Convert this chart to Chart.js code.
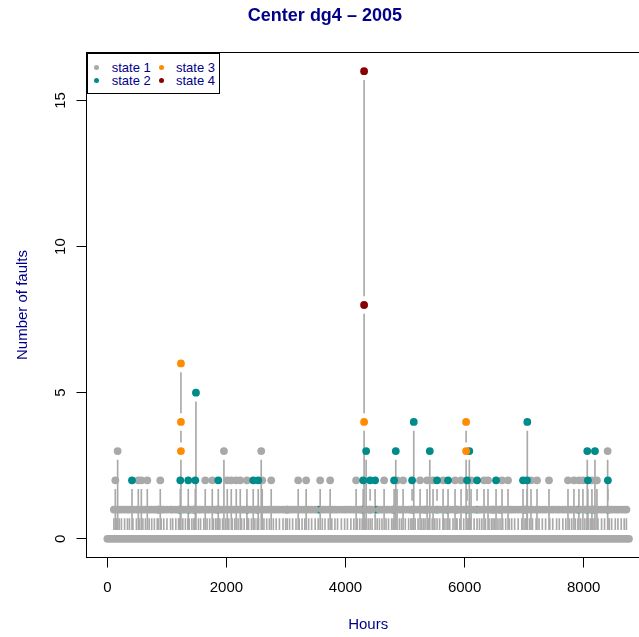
<!DOCTYPE html>
<html>
<head>
<meta charset="utf-8">
<title>Center dg4 - 2005</title>
<script src="https://cdn.jsdelivr.net/npm/chart.js@4.4.1/dist/chart.umd.min.js"></script>
<style>
  html, body { margin: 0; padding: 0; background: #fff; overflow: hidden; }
  #wrap { position: relative; width: 639px; height: 637px; overflow: hidden; }
  #faults { position: absolute; left: 0; top: 0; }
  #legend {
    position: absolute; left: 87px; top: 53px; width: 133px; height: 41px;
    box-sizing: border-box; border: 1px solid #000; background: #fff;
    font: 13px "Liberation Sans", Arial, sans-serif; color: #00008B;
  }
  #legend .dot { position: absolute; width: 5px; height: 5px; border-radius: 50%; }
  #legend .txt { position: absolute; line-height: 15px; white-space: nowrap; }
</style>
</head>
<body>
<div id="wrap">
  <canvas id="faults" width="736" height="637"></canvas>
  <div id="legend"></div>
</div>
<script>
const FONT = '"Liberation Sans", Arial, sans-serif';
const BLUE = '#00008B';

// axis ticks
const xTicks = [0, 2000, 4000, 6000, 8000];
const yTicks = [0, 5, 10, 15];

// hours covered by the record (zero-fault baseline)
const hourSpan = [0, 8760];

// state 1: hours with 1, 2 and 3 faults
const state1Ones = [110, 150, 198, 236, 290, 338, 371, 430, 488, 540, 597, 640, 702, 745, 790, 838, 905, 948,
  1001, 1062, 1098, 1150, 1196, 1268, 1311, 1352, 1420, 1455, 1530, 1566, 1620, 1675, 1718, 1783, 1821, 1890,
  1935, 1990, 2040, 2099, 2141, 2196, 2255, 2298, 2372, 2420, 2478, 2540, 2630, 2676, 2721, 2788, 2836, 2890,
  2950, 2995, 3060, 3112, 3168, 3222, 3270, 3316, 3380, 3431, 3490, 3610, 3655, 3711, 3770, 3822, 3866, 3930,
  3985, 4032, 4090, 4140, 4198, 4240, 4330, 4380, 4446, 4570, 4612, 4680, 4722, 4775, 4840, 4905, 4940, 5004,
  5060, 5098, 5170, 5218, 5280, 5310, 5390, 5455, 5500, 5580, 5640, 5670, 5750, 5805, 5860, 5920, 5985, 6060,
  6100, 6160, 6250, 6290, 6350, 6410, 6450, 6505, 6560, 6640, 6690, 6750, 6790, 6840, 6900, 6960, 7030, 7090,
  7140, 7200, 7250, 7305, 7360, 7430, 7480, 7545, 7590, 7650, 7700, 7760, 7800, 7860, 7950, 8020, 8085, 8120,
  8180, 8240, 8300, 8350, 8430, 8470, 8530, 8575, 8630, 8680, 8717];
const state1Twos = [134, 520, 571, 671, 889, 1644, 1762, 2014, 2081, 2165, 2232, 2344, 2601, 2752, 3205, 3339,
  3574, 3742, 4178, 4648, 4866, 4967, 5252, 5370, 5470, 5638, 5839, 5940, 6108, 6326, 6393, 6628, 6729, 7115,
  7216, 7417, 7736, 7836, 7920, 7987, 8138, 8222];
const state1Threes = [173, 1958, 2584, 8402];

// state 2
const state2Ones = [856, 1208, 1376, 1460, 1846, 2349, 2517, 3020, 3541, 4279, 4413, 4531, 4799, 5118, 5336,
  5537, 5705, 5873, 6041, 6209, 6477, 6595, 7014, 7903, 8054, 8155, 8406];
const state2Twos = [414, 1225, 1359, 1477, 1863, 2450, 2534, 4296, 4413, 4497, 4816, 5118, 5537, 5722, 6041,
  6209, 6528, 6981, 7048, 8070, 8406];
const state2Threes = [4346, 4844, 5415, 6079, 8060, 8189];
const state2Fours = [5146, 7053];
const state2Fives = [1488];

// states 3 and 4
const state3Hours = [1236, 1236, 1236, 4312, 6025, 6025];
const state3Counts = [3, 4, 6, 4, 3, 4];
const state4Hours = [4312, 4312];
const state4Counts = [8, 16];

const stateLabels = ['state 1', 'state 2', 'state 3', 'state 4'];
const stateColors = ['#A9A9A9', '#008B8B', '#FF8C00', '#8B0000'];

const at = (hours, n) => hours.map(h => ({ x: h, y: n }));
const paired = (hours, counts) => hours.map((h, i) => ({ x: h, y: counts[i] }));

const s1 = [...at(state1Ones, 1), ...at(state1Twos, 2), ...at(state1Threes, 3)];
const s2low = at(state2Ones, 1);
const s2 = [...at(state2Twos, 2), ...at(state2Threes, 3), ...at(state2Fours, 4), ...at(state2Fives, 5)];
const s3 = paired(state3Hours, state3Counts);
const s4 = paired(state4Hours, state4Counts);

// vertical stems between stacked points, stopping short of each point
const GAP = 0.31;
const levels = new Map();
[s1, s2low, s2, s3, s4].flat().forEach(p => {
  if (!levels.has(p.x)) levels.set(p.x, []);
  levels.get(p.x).push(p.y);
});
const stems = [];
levels.forEach((counts, hour) => {
  let lo = 0;
  [...new Set(counts)].sort((a, b) => a - b).forEach(c => {
    if (c - lo > 2 * GAP) stems.push({ x: hour, y: [lo + GAP, c - GAP] });
    lo = c;
  });
});

const dots = (data, color, order) => ({
  type: 'scatter', data, order,
  backgroundColor: color, borderWidth: 0, pointRadius: 3.9, pointHoverRadius: 3.9
});

// box around the plot region
const frame = {
  id: 'frame',
  afterDatasetsDraw(chart) {
    const { ctx, chartArea: a } = chart;
    ctx.save();
    ctx.strokeStyle = '#000';
    ctx.lineWidth = 1;
    ctx.strokeRect(a.left, a.top, a.right - a.left, a.bottom - a.top);
    ctx.restore();
  }
};

Chart.defaults.font.family = FONT;

new Chart(document.getElementById('faults'), {
  type: 'scatter',
  data: {
    datasets: [
      { type: 'bar', data: stems, backgroundColor: '#A9A9A9', borderWidth: 0, barThickness: 1, order: 7 },
      {
        type: 'line', data: at(hourSpan, 0), order: 6,
        borderColor: '#A9A9A9', borderWidth: 7.8, borderCapStyle: 'round', pointRadius: 0
      },
      dots(s2low, stateColors[1], 5),
      dots(s1, stateColors[0], 4),
      dots(s2, stateColors[1], 3),
      dots(s3, stateColors[2], 2),
      dots(s4, stateColors[3], 1)
    ]
  },
  options: {
    responsive: false,
    devicePixelRatio: 1,
    animation: false,
    events: [],
    layout: { padding: { left: 0, right: 86.2, top: 0, bottom: 0 } },
    plugins: {
      legend: { display: false },
      tooltip: { enabled: false },
      title: {
        display: true,
        text: 'Center dg4 \u2013 2005',
        color: BLUE,
        font: { size: 18, weight: 'bold' },
        padding: { top: 5, bottom: 25.9 }
      }
    },
    scales: {
      x: {
        type: 'linear', min: -350, max: 9110, offset: false,
        afterBuildTicks: s => { s.ticks = xTicks.map(v => ({ value: v })); },
        afterFit: s => { s.height = 79.5; },
        border: { display: false },
        grid: { drawOnChartArea: false, drawTicks: true, tickLength: 10, tickColor: '#000', tickWidth: 1, offset: false },
        ticks: { color: '#000', font: { size: 15 }, padding: 11.8, maxRotation: 0, autoSkip: false, callback: v => String(v) },
        title: { display: true, text: 'Hours', color: BLUE, font: { size: 15 }, padding: { top: 0, bottom: 3.5 } }
      },
      y: {
        type: 'linear', min: -0.64, max: 16.64,
        afterBuildTicks: s => { s.ticks = yTicks.map(v => ({ value: v })); },
        afterFit: s => { s.width = 86.5; },
        border: { display: false },
        grid: { drawOnChartArea: false, drawTicks: true, tickLength: 10, tickColor: '#000', tickWidth: 1 },
        ticks: {
          color: '#000', font: { size: 15 }, padding: 7.7, minRotation: 90, maxRotation: 90,
          crossAlign: 'center', autoSkip: false, callback: v => String(v)
        },
        title: { display: true, text: 'Number of faults', color: BLUE, font: { size: 15 }, padding: { top: 14, bottom: 0 } }
      }
    }
  },
  plugins: [frame]
});

// two-column legend in the top-left corner of the plot
const legend = document.getElementById('legend');
const slots = [[8.7, 13.7], [8.7, 26], [73, 13.7], [73, 26]];
stateLabels.forEach((label, i) => {
  const [cx, cy] = slots[i];
  const dot = document.createElement('span');
  dot.className = 'dot';
  dot.style.left = (cx - 2.5) + 'px';
  dot.style.top = (cy - 2.5) + 'px';
  dot.style.background = stateColors[i];
  const txt = document.createElement('span');
  txt.className = 'txt';
  txt.textContent = label;
  txt.style.left = (cx + 15) + 'px';
  txt.style.top = (cy - 7.5) + 'px';
  legend.append(dot, txt);
});
</script>
</body>
</html>
